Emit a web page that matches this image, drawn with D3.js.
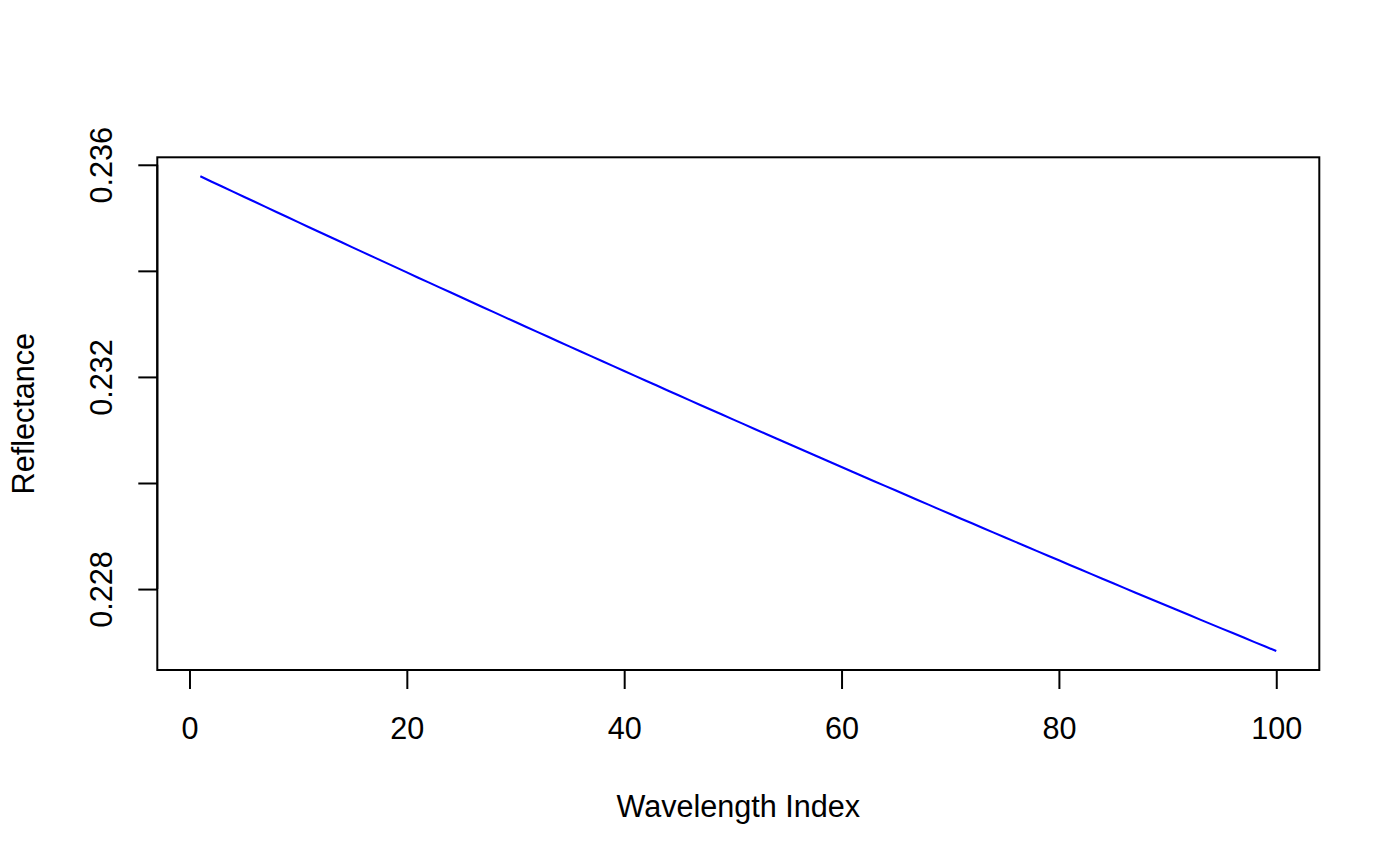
<!DOCTYPE html>
<html>
<head>
<meta charset="utf-8">
<script src="https://cdn.jsdelivr.net/npm/d3@7"></script>
<style>
  html, body { margin: 0; padding: 0; background: #fff; }
  svg { display: block; }
  text { font-family: "Liberation Sans", Arial, sans-serif; fill: #000; }
</style>
</head>
<body>
<svg id="chart" width="1400" height="866"></svg>
<script>
// ---- data ----
const wavelengthIndex = d3.range(1, 101);
const reflectance = [
  0.235783, 0.235686, 0.235590, 0.235494, 0.235398, 0.235302, 0.235206, 0.235110, 0.235014, 0.234919,
  0.234823, 0.234728, 0.234633, 0.234538, 0.234443, 0.234348, 0.234254, 0.234159, 0.234065, 0.233971,
  0.233876, 0.233782, 0.233688, 0.233595, 0.233501, 0.233407, 0.233314, 0.233221, 0.233128, 0.233035,
  0.232942, 0.232849, 0.232756, 0.232664, 0.232571, 0.232479, 0.232387, 0.232295, 0.232203, 0.232111,
  0.232019, 0.231928, 0.231837, 0.231745, 0.231654, 0.231563, 0.231472, 0.231381, 0.231291, 0.231200,
  0.231110, 0.231019, 0.230929, 0.230839, 0.230749, 0.230659, 0.230570, 0.230480, 0.230391, 0.230302,
  0.230212, 0.230123, 0.230034, 0.229946, 0.229857, 0.229768, 0.229680, 0.229592, 0.229503, 0.229415,
  0.229327, 0.229240, 0.229152, 0.229064, 0.228977, 0.228890, 0.228802, 0.228715, 0.228628, 0.228542,
  0.228455, 0.228368, 0.228282, 0.228196, 0.228109, 0.228023, 0.227937, 0.227852, 0.227766, 0.227680,
  0.227595, 0.227510, 0.227424, 0.227339, 0.227254, 0.227170, 0.227085, 0.227000, 0.226916, 0.226832
];
const xTicks = [0, 20, 40, 60, 80, 100];
const xTickLabels = ["0", "20", "40", "60", "80", "100"];
const yTicks = [0.228, 0.230, 0.232, 0.234, 0.236];
const yTickLabels = ["0.228", "", "0.232", "", "0.236"];
const xTitle = "Wavelength Index";
const yTitle = "Reflectance";

// ---- layout ----
const pLeft = 157.3, pRight = 1319.3, pTop = 157.3, pBottom = 670;
const fontSize = 30.6;
const tickLen = 19;

function rRange(ext) { const d = (ext[1] - ext[0]) * 0.04; return [ext[0] - d, ext[1] + d]; }

const x = d3.scaleLinear().domain(rRange(d3.extent(wavelengthIndex))).range([pLeft, pRight]);
const y = d3.scaleLinear().domain(rRange(d3.extent(reflectance))).range([pBottom, pTop]);

const svg = d3.select("#chart");

// line
const pts = wavelengthIndex.map((v, i) => [v, reflectance[i]]);
svg.append("path")
  .datum(pts)
  .attr("fill", "none")
  .attr("stroke", "#0000FF")
  .attr("stroke-width", 2.1)
  .attr("d", d3.line().x(d => x(d[0])).y(d => y(d[1])));

// box
svg.append("rect")
  .attr("x", pLeft).attr("y", pTop)
  .attr("width", pRight - pLeft).attr("height", pBottom - pTop)
  .attr("fill", "none").attr("stroke", "#000").attr("stroke-width", 2);

// x axis
const xAxis = d3.axisBottom(x).tickValues(xTicks)
  .tickFormat((d, i) => xTickLabels[i]).tickSize(tickLen);
const gx = svg.append("g").attr("transform", `translate(0,${pBottom})`).call(xAxis);
gx.select(".domain").attr("d", `M${x(xTicks[0])},0H${x(xTicks[xTicks.length - 1])}`)
  .attr("stroke", "#000").attr("stroke-width", 2);
gx.selectAll(".tick line").attr("stroke", "#000").attr("stroke-width", 2);
gx.selectAll(".tick text").attr("font-size", fontSize)
  .attr("font-family", "Liberation Sans, Arial, sans-serif")
  .attr("fill", "#000").attr("y", 69).attr("dy", 0);

// y axis
const yAxis = d3.axisLeft(y).tickValues(yTicks)
  .tickFormat((d, i) => yTickLabels[i]).tickSize(tickLen);
const gy = svg.append("g").attr("transform", `translate(${pLeft},0)`).call(yAxis);
gy.select(".domain").attr("d", `M0,${y(yTicks[0])}V${y(yTicks[yTicks.length - 1])}`)
  .attr("stroke", "#000").attr("stroke-width", 2);
gy.selectAll(".tick line").attr("stroke", "#000").attr("stroke-width", 2);
gy.selectAll(".tick text")
  .attr("font-size", fontSize)
  .attr("font-family", "Liberation Sans, Arial, sans-serif")
  .attr("fill", "#000")
  .attr("x", null).attr("dy", 0)
  .attr("text-anchor", "middle")
  .attr("transform", `translate(${111.7 - pLeft},0) rotate(-90)`);

// titles
svg.append("text")
  .attr("x", (pLeft + pRight) / 2).attr("y", 816.7)
  .attr("text-anchor", "middle").attr("font-size", fontSize)
  .text(xTitle);
svg.append("text")
  .attr("transform", `translate(33.5,${(pTop + pBottom) / 2}) rotate(-90)`)
  .attr("text-anchor", "middle").attr("font-size", fontSize)
  .text(yTitle);
</script>
</body>
</html>
